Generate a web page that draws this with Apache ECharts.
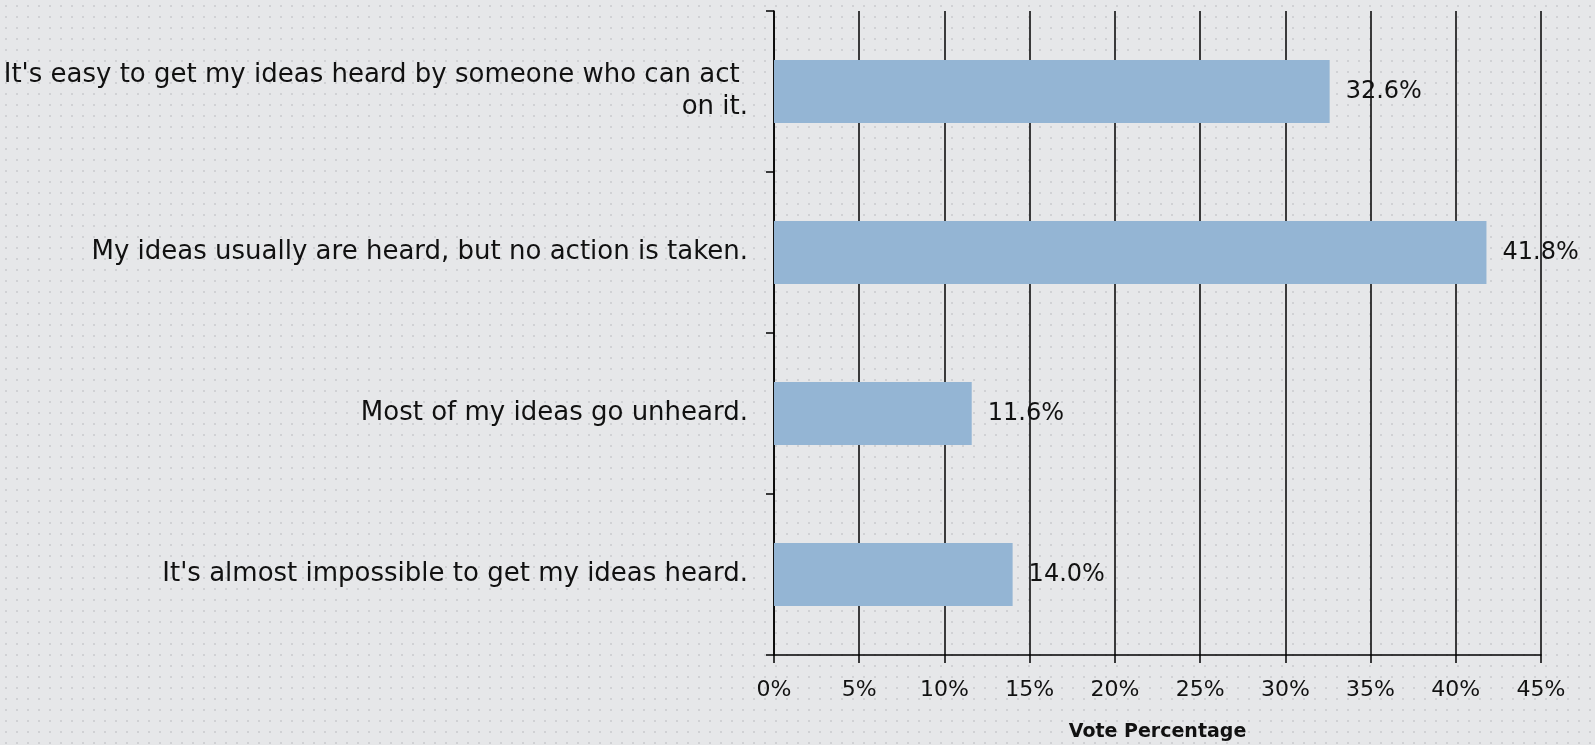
<!DOCTYPE html>
<html>
<head>
<meta charset="utf-8">
<script src="https://cdn.jsdelivr.net/npm/echarts@6/dist/echarts.min.js"></script>
<style>
html,body{margin:0;padding:0;background:#e6e7e9;}
#chart{width:1595px;height:745px;}
</style>
</head>
<body>
<div id="chart"></div>
<script>
const categories = [
  "It's easy to get my ideas heard by someone who can act on it.",
  "My ideas usually are heard, but no action is taken.",
  "Most of my ideas go unheard.",
  "It's almost impossible to get my ideas heard."
];
const votePercent = [32.6, 41.8, 11.6, 14.0];
const xTicks = { min: 0, max: 45, interval: 5 };
const axisTitle = "Vote Percentage";

// dotted background pattern
const pc = document.createElement('canvas');
pc.width = 11; pc.height = 11;
const g = pc.getContext('2d');
g.fillStyle = '#e6e7e9';
g.fillRect(0, 0, 11, 11);
g.fillStyle = '#d0d1d4';
g.fillRect(5, 5, 2, 2);

const FONT = '"DejaVu Sans", sans-serif';
const chart = echarts.init(document.getElementById('chart'), null, { renderer: 'canvas' });
chart.setOption({
  backgroundColor: { image: pc, repeat: 'repeat' },
  animation: false,
  grid: { left: 774, right: 54, top: 11, bottom: 90, containLabel: false, outerBoundsMode: 'none' },
  xAxis: {
    type: 'value',
    min: xTicks.min, max: xTicks.max, interval: xTicks.interval,
    name: axisTitle,
    nameLocation: 'middle',
    nameGap: 68,
    nameTextStyle: { fontFamily: FONT, fontWeight: 'bold', fontSize: 19, color: '#111' },
    axisLine: { show: true, lineStyle: { color: '#000', width: 1.5 } },
    axisTick: { show: true, length: 8, lineStyle: { color: '#000', width: 1.5 } },
    axisLabel: { formatter: '{value}%', fontFamily: FONT, fontSize: 22, color: '#111', margin: 24 },
    splitLine: { show: true, lineStyle: { color: '#000', width: 1.5 } }
  },
  yAxis: {
    type: 'category',
    data: categories,
    inverse: true,
    axisLine: { show: true, lineStyle: { color: '#000', width: 1.5 } },
    axisTick: { show: true, length: 8, lineStyle: { color: '#000', width: 1.5 } },
    axisLabel: {
      fontFamily: FONT, fontSize: 26, color: '#111', margin: 26,
      width: 745, overflow: 'break', lineHeight: 32, align: 'right'
    },
    splitLine: { show: false }
  },
  series: [{
    type: 'bar',
    data: votePercent,
    barCategoryGap: '61%',
    itemStyle: { color: '#94b5d4' },
    label: {
      show: true, position: 'right', distance: 16,
      formatter: p => p.value.toFixed(1) + '%',
      fontFamily: FONT, fontSize: 24, color: '#111'
    }
  }]
});
</script>
</body>
</html>
